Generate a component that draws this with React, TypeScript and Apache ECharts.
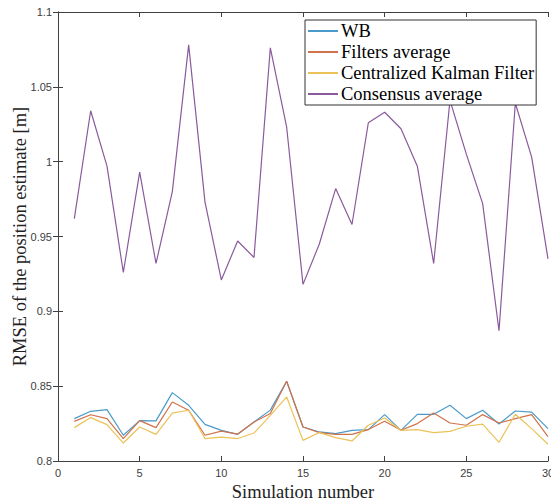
import React, { useEffect, useRef } from "react";
import * as echarts from "echarts";

const simulations = [1,2,3,4,5,6,7,8,9,10,11,12,13,14,15,16,17,18,19,20,21,22,23,24,25,26,27,28,29,30];
const wb = [0.8283,0.8332,0.8343,0.8172,0.827,0.8268,0.8457,0.8372,0.8245,0.8205,0.8178,0.826,0.834,0.8533,0.8227,0.8194,0.8183,0.8205,0.821,0.831,0.8205,0.8312,0.8312,0.8372,0.8283,0.8339,0.8247,0.8334,0.8327,0.8216];
const filtersAvg = [0.8265,0.8309,0.8283,0.815,0.827,0.8223,0.8394,0.8339,0.8172,0.820,0.818,0.826,0.8317,0.8533,0.8227,0.819,0.8178,0.8178,0.821,0.8265,0.8205,0.825,0.832,0.8254,0.8239,0.831,0.8254,0.8283,0.831,0.8163];
const centralizedKF = [0.8223,0.829,0.8243,0.812,0.8227,0.8178,0.832,0.8339,0.815,0.816,0.815,0.8187,0.8305,0.8428,0.8138,0.819,0.8156,0.8134,0.8239,0.8287,0.8205,0.821,0.819,0.8198,0.8232,0.8247,0.8125,0.8312,0.8216,0.8112];
const consensusAvg = [0.962,1.034,0.997,0.926,0.993,0.932,0.980,1.078,0.973,0.921,0.947,0.936,1.076,1.023,0.918,0.945,0.982,0.958,1.026,1.033,1.022,0.997,0.932,1.041,1.005,0.972,0.887,1.039,1.003,0.935];
const seriesNames = ["WB", "Filters average", "Centralized Kalman Filter", "Consensus average"];
const seriesColors = ["#4a9bc9", "#d0724a", "#ebc257", "#8a5a9c"];

export default function App() {
  const ref = useRef<HTMLDivElement>(null);
  useEffect(() => {
    const chart = echarts.init(ref.current!, undefined, { renderer: "svg" });
    const all = [wb, filtersAvg, centralizedKF, consensusAvg];
    const axisColor = "#404040";
    const serif = "Liberation Serif, Times New Roman, serif";
    const tickFont = { fontFamily: "Liberation Sans, Arial, sans-serif", fontSize: 11, color: "#404040" };
    chart.setOption({
      animation: false,
      backgroundColor: "#ffffff",
      grid: { left: 58, right: 3, top: 12, bottom: 42, containLabel: false, outerBoundsMode: "none" },
      legend: {
        orient: "vertical",
        left: 305,
        top: 20,
        data: seriesNames,
        backgroundColor: "#ffffff",
        borderColor: "#333333",
        borderWidth: 1,
        borderRadius: 0,
        padding: [1, 2, 1, 3],
        itemGap: 1,
        itemWidth: 30,
        itemHeight: 2,
        icon: "rect",
        textStyle: { fontFamily: serif, fontSize: 18.5, lineHeight: 20, color: "#000000", padding: [0, 0, 0, -2] },
      },
      xAxis: [
        {
          type: "value", min: 0, max: 30, interval: 5, position: "bottom",
          name: "Simulation number", nameLocation: "middle", nameGap: 21, nameMoveOverlap: false,
          nameTextStyle: { fontFamily: serif, fontSize: 18.5, color: "#222" },
          axisLine: { show: true, lineStyle: { color: axisColor, width: 1 } },
          axisTick: { show: true, inside: true, length: 5, lineStyle: { color: axisColor } },
          axisLabel: { ...tickFont, margin: 6 },
          splitLine: { show: false },
        },
        {
          type: "value", min: 0, max: 30, interval: 5, position: "top",
          axisLine: { show: true, lineStyle: { color: axisColor, width: 1 } },
          axisTick: { show: true, inside: true, length: 5, lineStyle: { color: axisColor } },
          axisLabel: { show: false },
          splitLine: { show: false },
        },
      ],
      yAxis: [
        {
          type: "value", min: 0.8, max: 1.1, interval: 0.05, position: "left",
          name: "RMSE of the position estimate [m]", nameLocation: "middle", nameGap: 29, nameMoveOverlap: false,
          nameTextStyle: { fontFamily: serif, fontSize: 18.5, color: "#222" },
          axisLine: { show: true, lineStyle: { color: axisColor, width: 1 } },
          axisTick: { show: true, inside: true, length: 5, lineStyle: { color: axisColor } },
          axisLabel: { ...tickFont, margin: 6 },
          splitLine: { show: false },
        },
        {
          type: "value", min: 0.8, max: 1.1, interval: 0.05, position: "right",
          axisLine: { show: true, lineStyle: { color: axisColor, width: 1 } },
          axisTick: { show: true, inside: true, length: 5, lineStyle: { color: axisColor } },
          axisLabel: { show: false },
          splitLine: { show: false },
        },
      ],
      series: seriesNames.map((name, k) => ({
        name,
        type: "line",
        xAxisIndex: 0,
        yAxisIndex: 0,
        showSymbol: false,
        symbol: "none",
        color: seriesColors[k],
        lineStyle: { width: 1.2, color: seriesColors[k] },
        data: simulations.map((s, i) => [s, all[k][i]]),
      })),
    });
    return () => chart.dispose();
  }, []);
  return <div ref={ref} style={{ position: "fixed", left: 0, top: 0, width: 551, height: 503 }} />;
}
